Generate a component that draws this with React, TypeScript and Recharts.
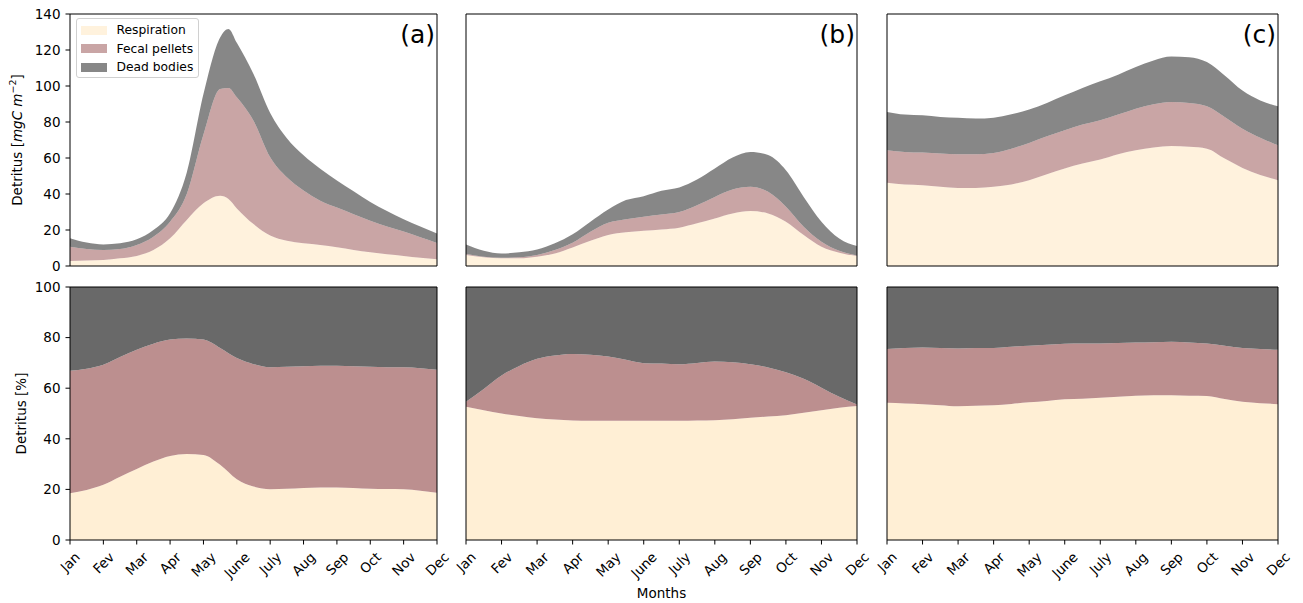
import React from "react"
import { AreaChart, Area, XAxis, YAxis, Legend, ReferenceLine } from "recharts"

const FONT = "'DejaVu Sans', sans-serif"

const months = ["Jan", "Fev", "Mar", "Apr", "May", "June", "July", "Aug", "Sep", "Oct", "Nov", "Dec"]
const monthTicks = [0, 1, 2, 3, 4, 5, 6, 7, 8, 9, 10, 11]

// sample positions, in months from Jan (half-month steps)
const halfGrid = [0, 0.5, 1, 1.5, 2, 2.5, 3, 3.5, 4, 4.5, 5, 5.5, 6, 6.5, 7, 7.5, 8, 8.5, 9, 9.5, 10, 10.5, 11]
const gridA = [0, 0.5, 1, 1.5, 2, 2.5, 3, 3.5, 4, 4.5, 4.75, 5, 5.5, 6, 6.5, 7, 7.5, 8, 8.5, 9, 9.5, 10, 10.5, 11]

// (a) mgC m-2
const respA = [2.8, 3, 3.3, 4.3, 5.6, 8.9, 15.4, 25.6, 34.8, 39, 37.2, 32, 23.3, 16.9, 14, 12.6, 11.7, 10.4, 8.9, 7.6, 6.5, 5.6, 4.6, 3.7]
const fecalA = [7.9, 6.4, 5.6, 5.1, 6.1, 7.4, 9.2, 14.4, 38.2, 59.3, 61.7, 61.7, 57.4, 43.5, 35.3, 29.3, 24.6, 22.1, 19.9, 17.6, 15.4, 13.5, 11.4, 9.1]
const deadA = [4.7, 3.6, 3.1, 3.2, 3.1, 3.7, 4.7, 12, 22.5, 28.7, 32.8, 30.3, 26, 24.6, 21.7, 19.6, 17.7, 15, 12.7, 10.3, 8.6, 6.9, 6, 5.3]

// (b) mgC m-2
const respB = [6.1, 4.8, 4.3, 4.3, 5.2, 7, 10.3, 14, 17.2, 18.7, 19.6, 20.3, 21.3, 23.7, 26.4, 29.2, 30.5, 29.2, 24.6, 17.2, 10.7, 7.4, 5.5]
const fecalB = [0.6, 0.4, 0.3, 0.5, 0.9, 1.9, 2.6, 5, 6.8, 7.3, 7.8, 8.3, 8.7, 10.1, 12, 13.3, 13.5, 12, 8.3, 4.6, 2.8, 1.1, 0.4]
const deadB = [5.3, 3.3, 2.4, 2.8, 3.1, 3.7, 4.7, 5.6, 7.4, 10.6, 11.4, 13.2, 13.6, 14.2, 15.8, 17.8, 19.4, 20.4, 20.3, 16.6, 11.1, 6.8, 5.2]

// (c) mgC m-2
const respC = [46.2, 45.3, 44.9, 44, 43.4, 43.4, 44, 45.3, 47.7, 51, 54.2, 56.9, 59.1, 62.1, 64.3, 65.8, 66.7, 66.2, 65.2, 59.7, 54.5, 50.5, 47.7]
const fecalC = [18.1, 18.1, 18.1, 18.5, 18.7, 18.7, 18.8, 19.9, 20.7, 21.1, 21.2, 21.7, 21.9, 22, 23.1, 24, 24.4, 24.4, 23.5, 23.1, 21.8, 20.8, 19.4]
const deadC = [21.3, 20.7, 20.7, 20.3, 20.2, 19.8, 19.6, 19.1, 18.5, 18.5, 19.4, 20.3, 21.6, 22.2, 23.1, 24.4, 25.3, 25.4, 24.6, 23.1, 21.2, 20.7, 21.6]

// percentages
const pctRespA = [18.5, 19.8, 21.8, 25, 28.1, 31, 33.2, 34, 33.6, 29.7, 24, 21.1, 20.1, 20.3, 20.6, 20.8, 20.8, 20.6, 20.3, 20.2, 20.1, 19.5, 18.7]
const pctFecalA = [48.4, 47.9, 47.5, 47.3, 47.1, 46.6, 46, 45.6, 45.6, 46.2, 47.9, 48.4, 48.2, 48.2, 48.1, 48.1, 48.1, 48.1, 48.2, 48.1, 48.2, 48.4, 48.6]
const pctDeadA = [33.1, 32.3, 30.7, 27.7, 24.8, 22.4, 20.8, 20.4, 20.8, 24.1, 28.1, 30.5, 31.7, 31.5, 31.3, 31.1, 31.1, 31.3, 31.5, 31.7, 31.7, 32.1, 32.7]

const pctRespB = [52.7, 51.3, 50, 49, 48.1, 47.6, 47.2, 47.1, 47.1, 47.1, 47.1, 47.1, 47.1, 47.2, 47.3, 47.7, 48.3, 48.8, 49.3, 50.3, 51.3, 52.3, 53]
const pctFecalB = [1.9, 8.4, 15, 19.8, 23.5, 25.3, 26.3, 26.1, 25.4, 24.1, 22.8, 22.7, 22.4, 22.8, 23.3, 22.6, 21.2, 19.4, 17, 13.4, 8.9, 4.3, 0.6]
const pctDeadB = [45.4, 40.3, 35, 31.2, 28.4, 27.1, 26.5, 26.8, 27.5, 28.8, 30.1, 30.2, 30.5, 30, 29.4, 29.7, 30.5, 31.8, 33.7, 36.3, 39.8, 43.4, 46.4]

const pctRespC = [54.2, 54, 53.7, 53.3, 52.9, 53.1, 53.3, 53.8, 54.4, 54.9, 55.6, 55.8, 56.2, 56.6, 57, 57.2, 57.2, 57, 56.9, 55.7, 54.6, 54.1, 53.7]
const pctFecalC = [21.3, 21.9, 22.4, 22.6, 22.8, 22.8, 22.6, 22.6, 22.4, 22.3, 22, 21.9, 21.5, 21.3, 21.1, 21, 21.2, 21.1, 20.8, 21.1, 21.3, 21.4, 21.5]
const pctDeadC = [24.5, 24.1, 23.9, 24.1, 24.3, 24.1, 24.1, 23.6, 23.2, 22.8, 22.4, 22.3, 22.3, 22.1, 21.9, 21.8, 21.6, 21.9, 22.3, 23.2, 24.1, 24.5, 24.8]

const absTicks = [0, 20, 40, 60, 80, 100, 120, 140]
const pctTicks = [0, 20, 40, 60, 80, 100]

const seriesNames = ["Respiration", "Fecal pellets", "Dead bodies"]
const colors = ["#FFEFD5", "#BC8F8F", "#696969"]

const TICK_FS = 13.5
let measureCtx: CanvasRenderingContext2D | null = null
function textWidth(s: string) {
  if (!measureCtx) measureCtx = document.createElement("canvas").getContext("2d")
  if (!measureCtx) return s.length * TICK_FS * 0.6
  measureCtx.font = `${TICK_FS}px 'DejaVu Sans'`
  return measureCtx.measureText(s).width
}

// rotated month label, box centred under the tick like matplotlib
function MonthTick(props: any) {
  const { x, y, payload } = props
  const label = months[payload.value]
  const w = textWidth(label)
  const h = TICK_FS * 0.95
  const cy = y + (w + h) / (2 * Math.SQRT2)
  return (
    <text x={x} y={cy} textAnchor="middle" dominantBaseline="central" fontSize={TICK_FS}
      fontFamily={FONT} fill="#000" transform={`rotate(-45 ${x} ${cy})`}>
      {label}
    </text>
  )
}

function LegendBox() {
  return (
    <div style={{ position: "relative", width: 123, height: 60, boxSizing: "border-box", border: "1px solid #d0d0d0",
      borderRadius: 3, background: "rgba(255,255,255,0.8)", fontFamily: FONT, fontSize: 12.3, color: "#000" }}>
      {seriesNames.map((n, i) => (
        <div key={n} style={{ position: "absolute", left: 0, top: 11.2 + i * 18.4 - 8, height: 16, width: 120 }}>
          <div style={{ position: "absolute", left: 4, top: 3.5, width: 26, height: 9, background: colors[i], opacity: 0.8 }} />
          <div style={{ position: "absolute", left: 39.5, top: 0, lineHeight: "16px", whiteSpace: "nowrap" }}>{n}</div>
        </div>
      ))}
    </div>
  )
}

type PanelProps = {
  left: number
  top: number
  width: number
  height: number
  yWidth: number
  xHeight: number
  grid: number[]
  resp: number[]
  fecal: number[]
  dead: number[]
  yMax: number
  yTicks: number[]
  showY: boolean
  bottom: boolean
  alpha: number
  tag?: string
  legend?: boolean
  children?: React.ReactNode
}

const M_TOP = 10
const M_RIGHT = 16

function Panel(p: PanelProps) {
  const rows = p.grid.map((m, i) => ({ m, resp: p.resp[i], fecal: p.fecal[i], dead: p.dead[i] }))
  const plotRight = p.width - M_RIGHT
  return (
    <div style={{ position: "absolute", left: p.left, top: p.top }}>
      <AreaChart width={p.width} height={p.height} data={rows}
        margin={{ top: M_TOP, right: M_RIGHT, bottom: p.bottom ? 0 : 4, left: 0 }}>
        <XAxis dataKey="m" type="number" domain={[0, 11]} ticks={monthTicks} interval={0} height={p.xHeight}
          tickSize={4.5} tickMargin={5.5} stroke="#000" allowDataOverflow
          tick={p.bottom ? (t: any) => <MonthTick {...t} /> : false} />
        <YAxis type="number" domain={[0, p.yMax]} ticks={p.yTicks} interval={0} width={p.yWidth}
          tickSize={4.5} tickMargin={5} stroke="#000" allowDataOverflow
          tick={p.showY ? { fill: "#000", fontSize: TICK_FS, fontFamily: FONT } : false} />
        {p.legend && (
          <Legend layout="vertical" align="center" verticalAlign="middle"
            wrapperStyle={{ left: 76, top: 14, width: 123, height: 60 }} content={() => <LegendBox />} />
        )}
        <Area dataKey="resp" name="Respiration" stackId="s" type="monotone" fill={colors[0]} fillOpacity={p.alpha}
          stroke="none" isAnimationActive={false} />
        <Area dataKey="fecal" name="Fecal pellets" stackId="s" type="monotone" fill={colors[1]} fillOpacity={p.alpha}
          stroke="none" isAnimationActive={false} />
        <Area dataKey="dead" name="Dead bodies" stackId="s" type="monotone" fill={colors[2]} fillOpacity={p.alpha}
          stroke="none" isAnimationActive={false} />
        {/* closing frame of the axes box */}
        <ReferenceLine y={p.yMax} stroke="#000" strokeWidth={1} />
        <ReferenceLine x={11} stroke="#000" strokeWidth={1} />
        {p.tag && (
          <text x={plotRight - 2} y={39.4} textAnchor="end" fontSize={25} fontFamily={FONT} fill="#000">{p.tag}</text>
        )}
        {p.children}
      </AreaChart>
    </div>
  )
}

export default function App() {
  const topH = 272
  const botH = 323
  return (
    <div style={{ position: "absolute", left: 0, top: 0, width: 1303, height: 603, background: "#fff" }}>
      <Panel left={0} top={4} width={453} height={topH} yWidth={70} xHeight={6} grid={gridA}
        resp={respA} fecal={fecalA} dead={deadA} yMax={140} yTicks={absTicks} showY bottom={false} alpha={0.8}
        tag="(a)" legend>
        <text x={21.5} y={136} transform="rotate(-90 21.5 136)" textAnchor="middle" fontSize={13.5}
          fontFamily={FONT} fill="#000">
          Detritus [<tspan fontStyle="italic">mgC m</tspan>
          <tspan fontSize={9.5} dy={-6}>−2</tspan>
          <tspan dy={6}>]</tspan>
        </text>
      </Panel>
      <Panel left={446} top={4} width={427} height={topH} yWidth={20} xHeight={6} grid={halfGrid}
        resp={respB} fecal={fecalB} dead={deadB} yMax={140} yTicks={absTicks} showY={false} bottom={false}
        alpha={0.8} tag="(b)" />
      <Panel left={867} top={4} width={427} height={topH} yWidth={20} xHeight={6} grid={halfGrid}
        resp={respC} fecal={fecalC} dead={deadC} yMax={140} yTicks={absTicks} showY={false} bottom={false}
        alpha={0.8} tag="(c)" />

      <Panel left={0} top={277} width={453} height={botH} yWidth={70} xHeight={60} grid={halfGrid}
        resp={pctRespA} fecal={pctFecalA} dead={pctDeadA} yMax={100} yTicks={pctTicks} showY bottom alpha={1}>
        <text x={26} y={136.5} transform="rotate(-90 26 136.5)" textAnchor="middle" fontSize={13.5}
          fontFamily={FONT} fill="#000">Detritus [%]</text>
      </Panel>
      <Panel left={446} top={277} width={427} height={botH} yWidth={20} xHeight={60} grid={halfGrid}
        resp={pctRespB} fecal={pctFecalB} dead={pctDeadB} yMax={100} yTicks={pctTicks} showY={false} bottom
        alpha={1}>
        <text x={215.5} y={321} textAnchor="middle" fontSize={13.5} fontFamily={FONT} fill="#000">Months</text>
      </Panel>
      <Panel left={867} top={277} width={427} height={botH} yWidth={20} xHeight={60} grid={halfGrid}
        resp={pctRespC} fecal={pctFecalC} dead={pctDeadC} yMax={100} yTicks={pctTicks} showY={false} bottom
        alpha={1} />
    </div>
  )
}
